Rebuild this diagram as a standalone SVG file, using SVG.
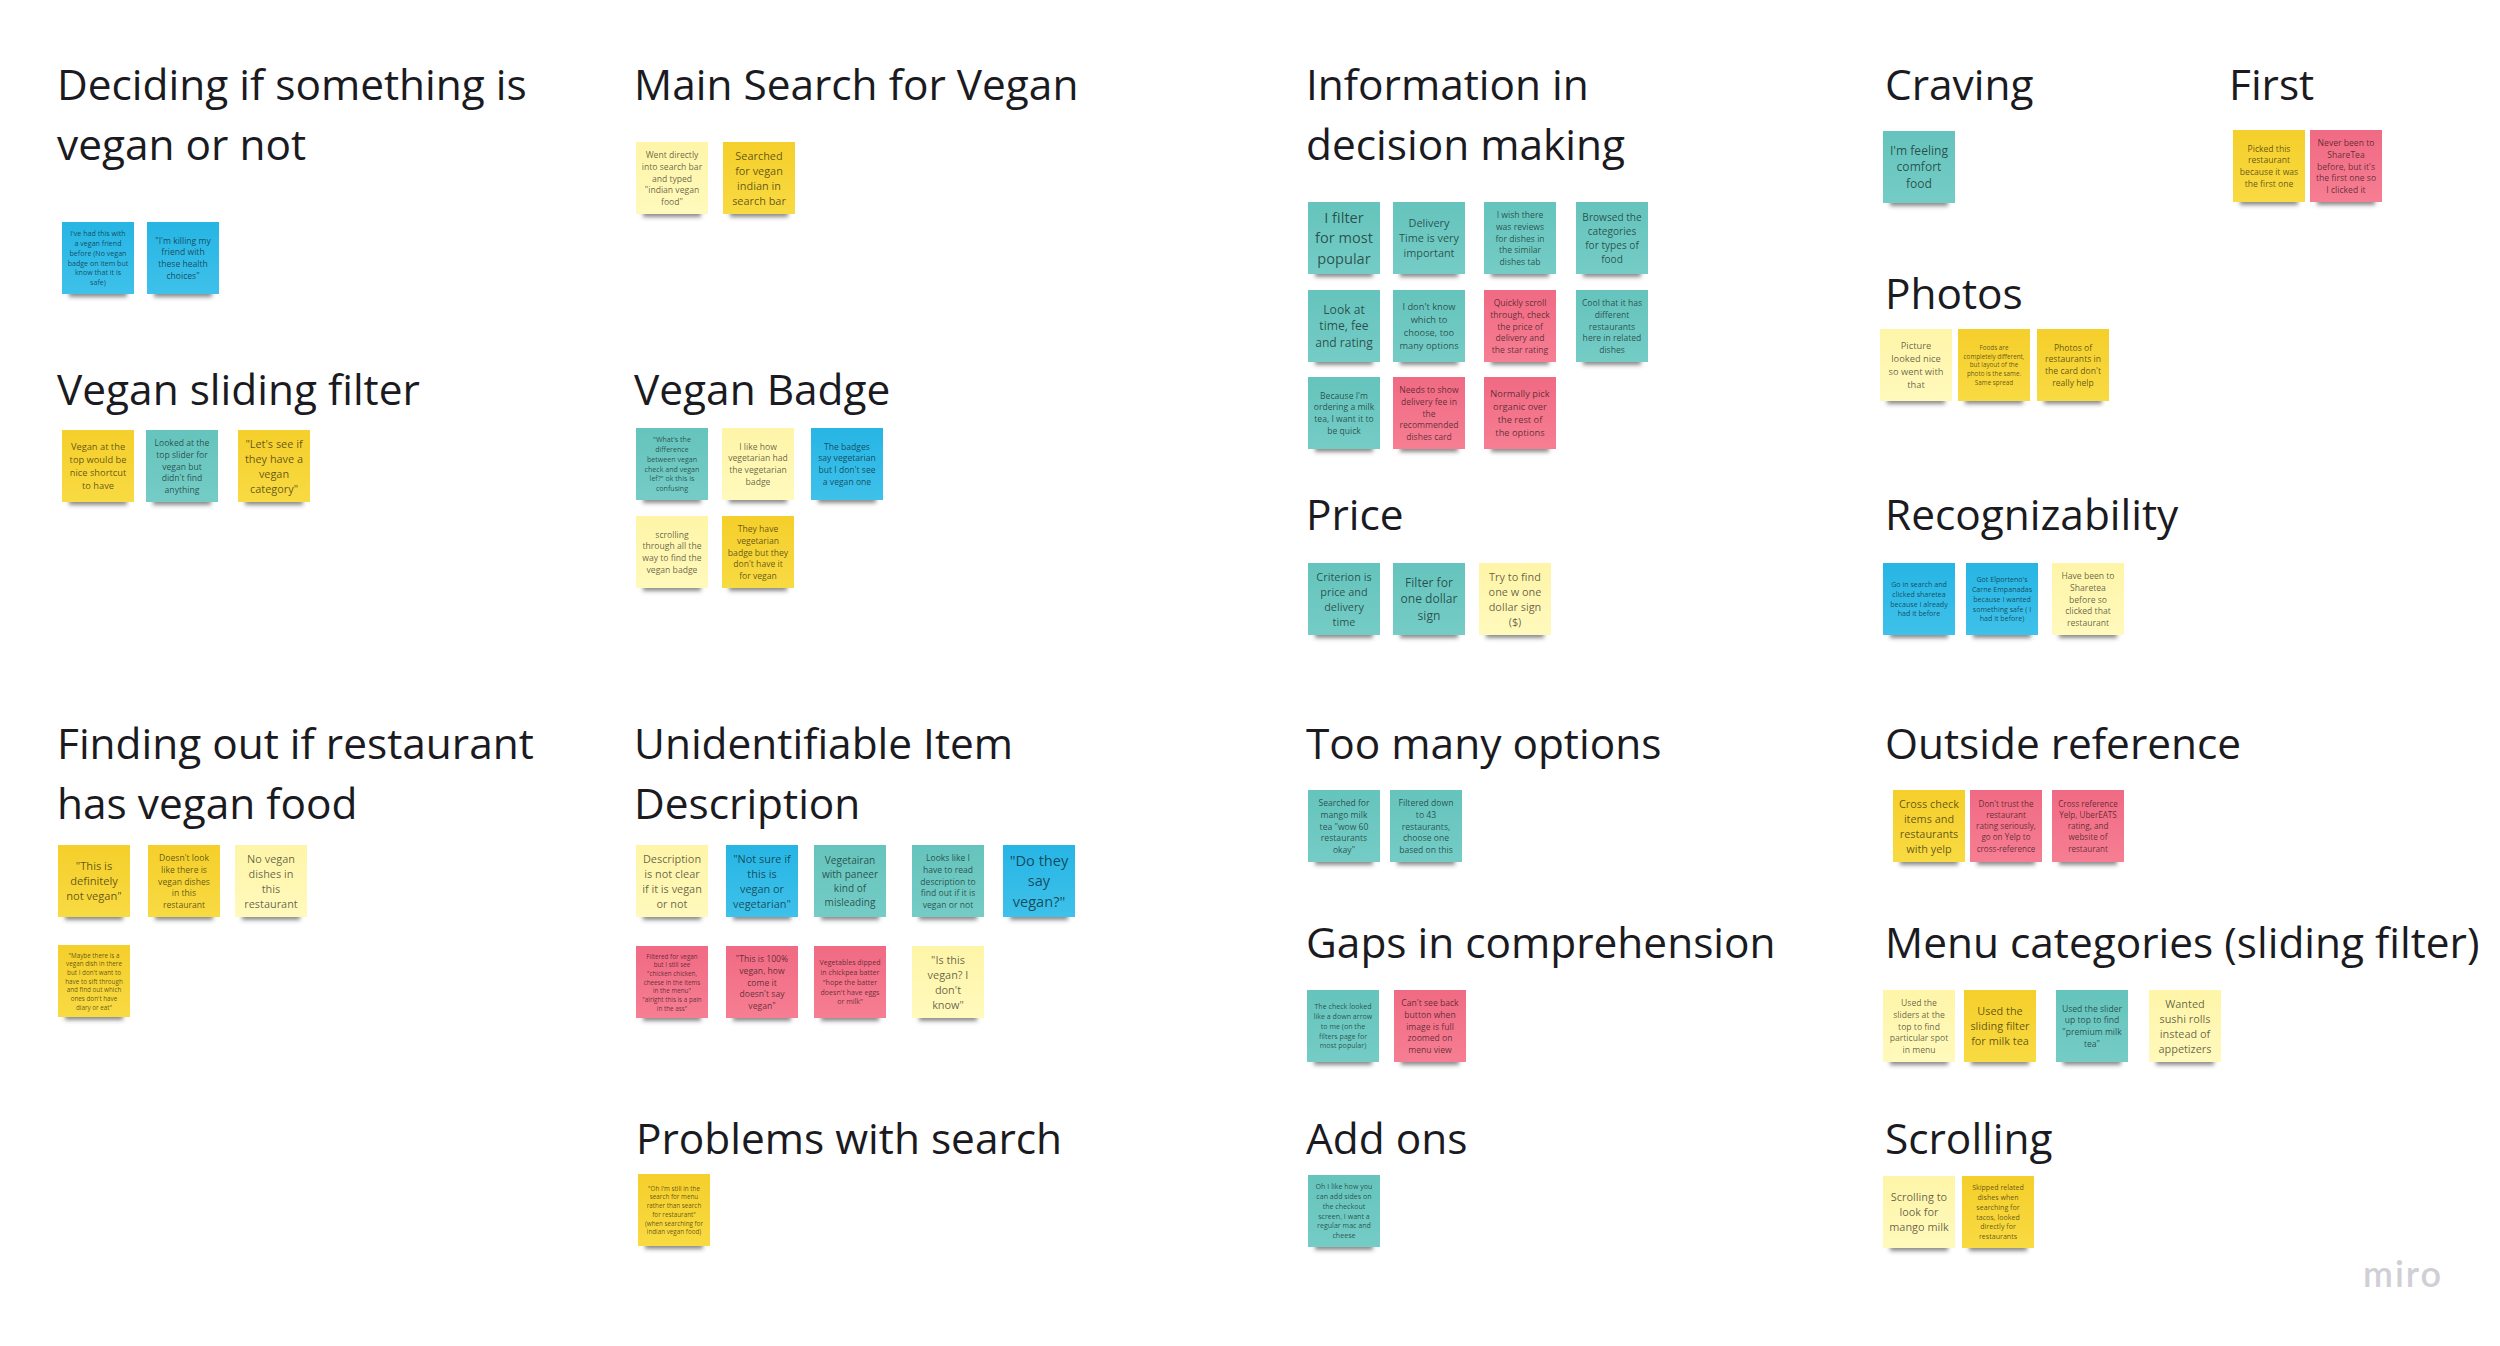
<svg xmlns="http://www.w3.org/2000/svg" width="2500" height="1346" viewBox="0 0 2500 1346">
<style>
text{font-family:"Open Sans","Noto Sans",sans-serif}
.t{font-size:42.4px;fill:#1a1a1f}
.n{text-anchor:middle;fill:#000;fill-opacity:.62}
.s62{font-size:6.3px}.s7{font-size:7.1px}.s8{font-size:8.1px}.s84{font-size:8.6px}.s92{font-size:9.3px}.s10{font-size:10.1px}.s108{font-size:10.9px}.s11{font-size:11.1px}.s12{font-size:12.1px}.s144{font-size:14.6px}
.sh{fill:#3c3c3c;fill-opacity:.6;filter:url(#b)}
</style>
<defs>
<filter id="b" x="-20%" y="-100%" width="140%" height="300%"><feGaussianBlur stdDeviation="2"/></filter>
<linearGradient id="gt" x1="0" y1="0" x2="0" y2="1"><stop offset="0" stop-color="#65c4bd"/><stop offset="1" stop-color="#74ccc5"/></linearGradient>
<linearGradient id="gb" x1="0" y1="0" x2="0" y2="1"><stop offset="0" stop-color="#27b5e4"/><stop offset="1" stop-color="#3ec1ea"/></linearGradient>
<linearGradient id="gy" x1="0" y1="0" x2="0" y2="1"><stop offset="0" stop-color="#f5cf2b"/><stop offset="1" stop-color="#f8da42"/></linearGradient>
<linearGradient id="gp" x1="0" y1="0" x2="0" y2="1"><stop offset="0" stop-color="#fef5a8"/><stop offset="1" stop-color="#fff9bc"/></linearGradient>
<linearGradient id="gr" x1="0" y1="0" x2="0" y2="1"><stop offset="0" stop-color="#f06a83"/><stop offset="1" stop-color="#f67e93"/></linearGradient>
<g id="t"><rect class="sh" x="7" y="67" width="58" height="8"/><rect width="72" height="72" fill="url(#gt)"/></g>
<g id="b1"><rect class="sh" x="7" y="67" width="58" height="8"/><rect width="72" height="72" fill="url(#gb)"/></g>
<g id="y"><rect class="sh" x="7" y="67" width="58" height="8"/><rect width="72" height="72" fill="url(#gy)"/></g>
<g id="p"><rect class="sh" x="7" y="67" width="58" height="8"/><rect width="72" height="72" fill="url(#gp)"/></g>
<g id="r"><rect class="sh" x="7" y="67" width="58" height="8"/><rect width="72" height="72" fill="url(#gr)"/></g>
</defs>
<rect width="2500" height="1346" fill="#fff"/>
<g id="titles" transform="translate(0,1)">
<text class="t" x="57" y="99">Deciding if something is</text>
<text class="t" x="57" y="159">vegan or not</text>
<text class="t" x="57" y="404">Vegan sliding filter</text>
<text class="t" x="57" y="758">Finding out if restaurant</text>
<text class="t" x="57" y="818">has vegan food</text>
<text class="t" x="634" y="99">Main Search for Vegan</text>
<text class="t" x="634" y="404">Vegan Badge</text>
<text class="t" x="634" y="758">Unidentifiable Item</text>
<text class="t" x="634" y="818">Description</text>
<text class="t" x="636" y="1153">Problems with search</text>
<text class="t" x="1306" y="99">Information in</text>
<text class="t" x="1306" y="159">decision making</text>
<text class="t" x="1306" y="529">Price</text>
<text class="t" x="1306" y="758">Too many options</text>
<text class="t" x="1306" y="957">Gaps in comprehension</text>
<text class="t" x="1306" y="1153">Add ons</text>
<text class="t" x="1885" y="99">Craving</text>
<text class="t" x="2229" y="99">First</text>
<text class="t" x="1885" y="308">Photos</text>
<text class="t" x="1885" y="529">Recognizability</text>
<text class="t" x="1885" y="758">Outside reference</text>
<text class="t" x="1885" y="957">Menu categories (sliding filter)</text>
<text class="t" x="1885" y="1153">Scrolling</text>
</g>
<g id="n1" transform="translate(62,222)"><use href="#b1"/><text class="n s7" y="14.3"><tspan x="36">I've had this with</tspan><tspan x="36" dy="1.38em">a vegan friend</tspan><tspan x="36" dy="1.38em">before (No vegan</tspan><tspan x="36" dy="1.38em">badge on item but</tspan><tspan x="36" dy="1.38em">know that it is</tspan><tspan x="36" dy="1.38em">safe)</tspan></text></g>
<g id="n2" transform="translate(147,222)"><use href="#b1"/><text class="n s84" y="21.6"><tspan x="36">"I'm killing my</tspan><tspan x="36" dy="1.38em">friend with</tspan><tspan x="36" dy="1.38em">these health</tspan><tspan x="36" dy="1.38em">choices"</tspan></text></g>
<g id="n3" transform="translate(62,430)"><use href="#y"/><text class="n s92" y="20.3"><tspan x="36">Vegan at the</tspan><tspan x="36" dy="1.38em">top would be</tspan><tspan x="36" dy="1.38em">nice shortcut</tspan><tspan x="36" dy="1.38em">to have</tspan></text></g>
<g id="n4" transform="translate(146,430)"><use href="#t"/><text class="n s84" y="15.8"><tspan x="36">Looked at the</tspan><tspan x="36" dy="1.38em">top slider for</tspan><tspan x="36" dy="1.38em">vegan but</tspan><tspan x="36" dy="1.38em">didn't find</tspan><tspan x="36" dy="1.38em">anything</tspan></text></g>
<g id="n5" transform="translate(238,430)"><use href="#y"/><text class="n s108" y="17.5"><tspan x="36">"Let's see if</tspan><tspan x="36" dy="1.38em">they have a</tspan><tspan x="36" dy="1.38em">vegan</tspan><tspan x="36" dy="1.38em">category"</tspan></text></g>
<g id="n6" transform="translate(636,142)"><use href="#p"/><text class="n s84" y="15.8"><tspan x="36">Went directly</tspan><tspan x="36" dy="1.38em">into search bar</tspan><tspan x="36" dy="1.38em">and typed</tspan><tspan x="36" dy="1.38em">"indian vegan</tspan><tspan x="36" dy="1.38em">food"</tspan></text></g>
<g id="n7" transform="translate(723,142)"><use href="#y"/><text class="n s108" y="17.5"><tspan x="36">Searched</tspan><tspan x="36" dy="1.38em">for vegan</tspan><tspan x="36" dy="1.38em">indian in</tspan><tspan x="36" dy="1.38em">search bar</tspan></text></g>
<g id="n8" transform="translate(636,428)"><use href="#t"/><text class="n s7" y="14.3"><tspan x="36">"What's the</tspan><tspan x="36" dy="1.38em">difference</tspan><tspan x="36" dy="1.38em">between vegan</tspan><tspan x="36" dy="1.38em">check and vegan</tspan><tspan x="36" dy="1.38em">lef?" ok this is</tspan><tspan x="36" dy="1.38em">confusing</tspan></text></g>
<g id="n9" transform="translate(722,428)"><use href="#p"/><text class="n s84" y="21.6"><tspan x="36">I like how</tspan><tspan x="36" dy="1.38em">vegetarian had</tspan><tspan x="36" dy="1.38em">the vegetarian</tspan><tspan x="36" dy="1.38em">badge</tspan></text></g>
<g id="n10" transform="translate(811,428)"><use href="#b1"/><text class="n s84" y="21.6"><tspan x="36">The badges</tspan><tspan x="36" dy="1.38em">say vegetarian</tspan><tspan x="36" dy="1.38em">but I don't see</tspan><tspan x="36" dy="1.38em">a vegan one</tspan></text></g>
<g id="n11" transform="translate(636,516)"><use href="#p"/><text class="n s84" y="21.6"><tspan x="36">scrolling</tspan><tspan x="36" dy="1.38em">through all the</tspan><tspan x="36" dy="1.38em">way to find the</tspan><tspan x="36" dy="1.38em">vegan badge</tspan></text></g>
<g id="n12" transform="translate(722,516)"><use href="#y"/><text class="n s84" y="15.8"><tspan x="36">They have</tspan><tspan x="36" dy="1.38em">vegetarian</tspan><tspan x="36" dy="1.38em">badge but they</tspan><tspan x="36" dy="1.38em">don't have it</tspan><tspan x="36" dy="1.38em">for vegan</tspan></text></g>
<g id="n13" transform="translate(1308,202)"><use href="#t"/><text class="n s144" y="21.3"><tspan x="36">I filter</tspan><tspan x="36" dy="1.38em">for most</tspan><tspan x="36" dy="1.38em">popular</tspan></text></g>
<g id="n14" transform="translate(1393,202)"><use href="#t"/><text class="n s108" y="25"><tspan x="36">Delivery</tspan><tspan x="36" dy="1.38em">Time is very</tspan><tspan x="36" dy="1.38em">important</tspan></text></g>
<g id="n15" transform="translate(1484,202)"><use href="#t"/><text class="n s84" y="15.8"><tspan x="36">I wish there</tspan><tspan x="36" dy="1.38em">was reviews</tspan><tspan x="36" dy="1.38em">for dishes in</tspan><tspan x="36" dy="1.38em">the similar</tspan><tspan x="36" dy="1.38em">dishes tab</tspan></text></g>
<g id="n16" transform="translate(1576,202)"><use href="#t"/><text class="n s10" y="18.9"><tspan x="36">Browsed the</tspan><tspan x="36" dy="1.38em">categories</tspan><tspan x="36" dy="1.38em">for types of</tspan><tspan x="36" dy="1.38em">food</tspan></text></g>
<g id="n17" transform="translate(1308,290)"><use href="#t"/><text class="n s12" y="23.7"><tspan x="36">Look at</tspan><tspan x="36" dy="1.38em">time, fee</tspan><tspan x="36" dy="1.38em">and rating</tspan></text></g>
<g id="n18" transform="translate(1393,290)"><use href="#t"/><text class="n s92" y="20.3"><tspan x="36">I don't know</tspan><tspan x="36" dy="1.38em">which to</tspan><tspan x="36" dy="1.38em">choose, too</tspan><tspan x="36" dy="1.38em">many options</tspan></text></g>
<g id="n19" transform="translate(1484,290)"><use href="#r"/><text class="n s84" y="15.8"><tspan x="36">Quickly scroll</tspan><tspan x="36" dy="1.38em">through, check</tspan><tspan x="36" dy="1.38em">the price of</tspan><tspan x="36" dy="1.38em">delivery and</tspan><tspan x="36" dy="1.38em">the star rating</tspan></text></g>
<g id="n20" transform="translate(1576,290)"><use href="#t"/><text class="n s84" y="15.8"><tspan x="36">Cool that it has</tspan><tspan x="36" dy="1.38em">different</tspan><tspan x="36" dy="1.38em">restaurants</tspan><tspan x="36" dy="1.38em">here in related</tspan><tspan x="36" dy="1.38em">dishes</tspan></text></g>
<g id="n21" transform="translate(1308,377)"><use href="#t"/><text class="n s84" y="21.6"><tspan x="36">Because I'm</tspan><tspan x="36" dy="1.38em">ordering a milk</tspan><tspan x="36" dy="1.38em">tea, I want it to</tspan><tspan x="36" dy="1.38em">be quick</tspan></text></g>
<g id="n22" transform="translate(1393,377)"><use href="#r"/><text class="n s84" y="15.8"><tspan x="36">Needs to show</tspan><tspan x="36" dy="1.38em">delivery fee in</tspan><tspan x="36" dy="1.38em">the</tspan><tspan x="36" dy="1.38em">recommended</tspan><tspan x="36" dy="1.38em">dishes card</tspan></text></g>
<g id="n23" transform="translate(1484,377)"><use href="#r"/><text class="n s92" y="20.3"><tspan x="36">Normally pick</tspan><tspan x="36" dy="1.38em">organic over</tspan><tspan x="36" dy="1.38em">the rest of</tspan><tspan x="36" dy="1.38em">the options</tspan></text></g>
<g id="n24" transform="translate(1308,563)"><use href="#t"/><text class="n s108" y="17.5"><tspan x="36">Criterion is</tspan><tspan x="36" dy="1.38em">price and</tspan><tspan x="36" dy="1.38em">delivery</tspan><tspan x="36" dy="1.38em">time</tspan></text></g>
<g id="n25" transform="translate(1393,563)"><use href="#t"/><text class="n s12" y="23.7"><tspan x="36">Filter for</tspan><tspan x="36" dy="1.38em">one dollar</tspan><tspan x="36" dy="1.38em">sign</tspan></text></g>
<g id="n26" transform="translate(1479,563)"><use href="#p"/><text class="n s108" y="17.5"><tspan x="36">Try to find</tspan><tspan x="36" dy="1.38em">one w one</tspan><tspan x="36" dy="1.38em">dollar sign</tspan><tspan x="36" dy="1.38em">($)</tspan></text></g>
<g id="n27" transform="translate(1308,790)"><use href="#t"/><text class="n s84" y="15.8"><tspan x="36">Searched for</tspan><tspan x="36" dy="1.38em">mango milk</tspan><tspan x="36" dy="1.38em">tea "wow 60</tspan><tspan x="36" dy="1.38em">restaurants</tspan><tspan x="36" dy="1.38em">okay"</tspan></text></g>
<g id="n28" transform="translate(1390,790)"><use href="#t"/><text class="n s84" y="15.8"><tspan x="36">Filtered down</tspan><tspan x="36" dy="1.38em">to 43</tspan><tspan x="36" dy="1.38em">restaurants,</tspan><tspan x="36" dy="1.38em">choose one</tspan><tspan x="36" dy="1.38em">based on this</tspan></text></g>
<g id="n29" transform="translate(1307,990)"><use href="#t"/><text class="n s7" y="19.2"><tspan x="36">The check looked</tspan><tspan x="36" dy="1.38em">like a down arrow</tspan><tspan x="36" dy="1.38em">to me (on the</tspan><tspan x="36" dy="1.38em">filters page for</tspan><tspan x="36" dy="1.38em">most popular)</tspan></text></g>
<g id="n30" transform="translate(1394,990)"><use href="#r"/><text class="n s84" y="15.8"><tspan x="36">Can't see back</tspan><tspan x="36" dy="1.38em">button when</tspan><tspan x="36" dy="1.38em">image is full</tspan><tspan x="36" dy="1.38em">zoomed on</tspan><tspan x="36" dy="1.38em">menu view</tspan></text></g>
<g id="n31" transform="translate(1308,1175)"><use href="#t"/><text class="n s7" y="14.3"><tspan x="36">Oh I like how you</tspan><tspan x="36" dy="1.38em">can add sides on</tspan><tspan x="36" dy="1.38em">the checkout</tspan><tspan x="36" dy="1.38em">screen, I want a</tspan><tspan x="36" dy="1.38em">regular mac and</tspan><tspan x="36" dy="1.38em">cheese</tspan></text></g>
<g id="n32" transform="translate(1883,131)"><use href="#t"/><text class="n s12" y="23.7"><tspan x="36">I'm feeling</tspan><tspan x="36" dy="1.38em">comfort</tspan><tspan x="36" dy="1.38em">food</tspan></text></g>
<g id="n33" transform="translate(2233,130)"><use href="#y"/><text class="n s84" y="21.6"><tspan x="36">Picked this</tspan><tspan x="36" dy="1.38em">restaurant</tspan><tspan x="36" dy="1.38em">because it was</tspan><tspan x="36" dy="1.38em">the first one</tspan></text></g>
<g id="n34" transform="translate(2310,130)"><use href="#r"/><text class="n s84" y="15.8"><tspan x="36">Never been to</tspan><tspan x="36" dy="1.38em">ShareTea</tspan><tspan x="36" dy="1.38em">before, but it's</tspan><tspan x="36" dy="1.38em">the first one so</tspan><tspan x="36" dy="1.38em">I clicked it</tspan></text></g>
<g id="n35" transform="translate(1880,329)"><use href="#p"/><text class="n s92" y="20.3"><tspan x="36">Picture</tspan><tspan x="36" dy="1.38em">looked nice</tspan><tspan x="36" dy="1.38em">so went with</tspan><tspan x="36" dy="1.38em">that</tspan></text></g>
<g id="n36" transform="translate(1958,329)"><use href="#y"/><text class="n s62" y="21.1"><tspan x="36">Foods are</tspan><tspan x="36" dy="1.38em">completely different,</tspan><tspan x="36" dy="1.38em">but layout of the</tspan><tspan x="36" dy="1.38em">photo is the same.</tspan><tspan x="36" dy="1.38em">Same spread</tspan></text></g>
<g id="n37" transform="translate(2037,329)"><use href="#y"/><text class="n s84" y="21.6"><tspan x="36">Photos of</tspan><tspan x="36" dy="1.38em">restaurants in</tspan><tspan x="36" dy="1.38em">the card don't</tspan><tspan x="36" dy="1.38em">really help</tspan></text></g>
<g id="n38" transform="translate(1883,563)"><use href="#b1"/><text class="n s7" y="24"><tspan x="36">Go in search and</tspan><tspan x="36" dy="1.38em">clicked sharetea</tspan><tspan x="36" dy="1.38em">because I already</tspan><tspan x="36" dy="1.38em">had it before</tspan></text></g>
<g id="n39" transform="translate(1966,563)"><use href="#b1"/><text class="n s7" y="19.2"><tspan x="36">Got Elporteno's</tspan><tspan x="36" dy="1.38em">Carne Empanadas</tspan><tspan x="36" dy="1.38em">because I wanted</tspan><tspan x="36" dy="1.38em">something safe ( I</tspan><tspan x="36" dy="1.38em">had it before)</tspan></text></g>
<g id="n40" transform="translate(2052,563)"><use href="#p"/><text class="n s84" y="15.8"><tspan x="36">Have been to</tspan><tspan x="36" dy="1.38em">Sharetea</tspan><tspan x="36" dy="1.38em">before so</tspan><tspan x="36" dy="1.38em">clicked that</tspan><tspan x="36" dy="1.38em">restaurant</tspan></text></g>
<g id="n41" transform="translate(1893,790)"><use href="#y"/><text class="n s108" y="17.5"><tspan x="36">Cross check</tspan><tspan x="36" dy="1.38em">items and</tspan><tspan x="36" dy="1.38em">restaurants</tspan><tspan x="36" dy="1.38em">with yelp</tspan></text></g>
<g id="n42" transform="translate(1970,790)"><use href="#r"/><text class="n s8" y="16.9"><tspan x="36">Don't trust the</tspan><tspan x="36" dy="1.38em">restaurant</tspan><tspan x="36" dy="1.38em">rating seriously,</tspan><tspan x="36" dy="1.38em">go on Yelp to</tspan><tspan x="36" dy="1.38em">cross-reference</tspan></text></g>
<g id="n43" transform="translate(2052,790)"><use href="#r"/><text class="n s8" y="16.9"><tspan x="36">Cross reference</tspan><tspan x="36" dy="1.38em">Yelp, UberEATS</tspan><tspan x="36" dy="1.38em">rating, and</tspan><tspan x="36" dy="1.38em">website of</tspan><tspan x="36" dy="1.38em">restaurant</tspan></text></g>
<g id="n44" transform="translate(58,845)"><use href="#y"/><text class="n s11" y="24.8"><tspan x="36">"This is</tspan><tspan x="36" dy="1.38em">definitely</tspan><tspan x="36" dy="1.38em">not vegan"</tspan></text></g>
<g id="n45" transform="translate(148,845)"><use href="#y"/><text class="n s84" y="15.8"><tspan x="36">Doesn't look</tspan><tspan x="36" dy="1.38em">like there is</tspan><tspan x="36" dy="1.38em">vegan dishes</tspan><tspan x="36" dy="1.38em">in this</tspan><tspan x="36" dy="1.38em">restaurant</tspan></text></g>
<g id="n46" transform="translate(235,845)"><use href="#p"/><text class="n s108" y="17.5"><tspan x="36">No vegan</tspan><tspan x="36" dy="1.38em">dishes in</tspan><tspan x="36" dy="1.38em">this</tspan><tspan x="36" dy="1.38em">restaurant</tspan></text></g>
<g id="n47" transform="translate(58,945)"><use href="#y"/><text class="n s62" y="12.5"><tspan x="36">"Maybe there is a</tspan><tspan x="36" dy="1.38em">vegan dish in there</tspan><tspan x="36" dy="1.38em">but I don't want to</tspan><tspan x="36" dy="1.38em">have to sift through</tspan><tspan x="36" dy="1.38em">and find out which</tspan><tspan x="36" dy="1.38em">ones don't have</tspan><tspan x="36" dy="1.38em">diary or eat"</tspan></text></g>
<g id="n48" transform="translate(636,845)"><use href="#p"/><text class="n s108" y="17.5"><tspan x="36">Description</tspan><tspan x="36" dy="1.38em">is not clear</tspan><tspan x="36" dy="1.38em">if it is vegan</tspan><tspan x="36" dy="1.38em">or not</tspan></text></g>
<g id="n49" transform="translate(726,845)"><use href="#b1"/><text class="n s108" y="17.5"><tspan x="36">"Not sure if</tspan><tspan x="36" dy="1.38em">this is</tspan><tspan x="36" dy="1.38em">vegan or</tspan><tspan x="36" dy="1.38em">vegetarian"</tspan></text></g>
<g id="n50" transform="translate(814,845)"><use href="#t"/><text class="n s10" y="18.9"><tspan x="36">Vegetairan</tspan><tspan x="36" dy="1.38em">with paneer</tspan><tspan x="36" dy="1.38em">kind of</tspan><tspan x="36" dy="1.38em">misleading</tspan></text></g>
<g id="n51" transform="translate(912,845)"><use href="#t"/><text class="n s84" y="15.8"><tspan x="36">Looks like I</tspan><tspan x="36" dy="1.38em">have to read</tspan><tspan x="36" dy="1.38em">description to</tspan><tspan x="36" dy="1.38em">find out if it is</tspan><tspan x="36" dy="1.38em">vegan or not</tspan></text></g>
<g id="n52" transform="translate(1003,845)"><use href="#b1"/><text class="n s144" y="21.3"><tspan x="36">"Do they</tspan><tspan x="36" dy="1.38em">say</tspan><tspan x="36" dy="1.38em">vegan?"</tspan></text></g>
<g id="n53" transform="translate(636,946)"><use href="#r"/><text class="n s62" y="12.5"><tspan x="36">Filtered for vegan</tspan><tspan x="36" dy="1.38em">but I still see</tspan><tspan x="36" dy="1.38em">"chicken chicken,</tspan><tspan x="36" dy="1.38em">cheese in the items</tspan><tspan x="36" dy="1.38em">in the menu"</tspan><tspan x="36" dy="1.38em">"alright this is a pain</tspan><tspan x="36" dy="1.38em">in the ass"</tspan></text></g>
<g id="n54" transform="translate(726,946)"><use href="#r"/><text class="n s84" y="15.8"><tspan x="36">"This is 100%</tspan><tspan x="36" dy="1.38em">vegan, how</tspan><tspan x="36" dy="1.38em">come it</tspan><tspan x="36" dy="1.38em">doesn't say</tspan><tspan x="36" dy="1.38em">vegan"</tspan></text></g>
<g id="n55" transform="translate(814,946)"><use href="#r"/><text class="n s7" y="19.2"><tspan x="36">Vegetables dipped</tspan><tspan x="36" dy="1.38em">in chickpea batter</tspan><tspan x="36" dy="1.38em">"hope the batter</tspan><tspan x="36" dy="1.38em">doesn't have eggs</tspan><tspan x="36" dy="1.38em">or milk"</tspan></text></g>
<g id="n56" transform="translate(912,946)"><use href="#p"/><text class="n s108" y="17.5"><tspan x="36">"Is this</tspan><tspan x="36" dy="1.38em">vegan? I</tspan><tspan x="36" dy="1.38em">don't</tspan><tspan x="36" dy="1.38em">know"</tspan></text></g>
<g id="n57" transform="translate(638,1174)"><use href="#y"/><text class="n s62" y="16.8"><tspan x="36">"Oh I'm still in the</tspan><tspan x="36" dy="1.38em">search for menu</tspan><tspan x="36" dy="1.38em">rather than search</tspan><tspan x="36" dy="1.38em">for restaurant"</tspan><tspan x="36" dy="1.38em">(when searching for</tspan><tspan x="36" dy="1.38em">indian vegan food)</tspan></text></g>
<g id="n58" transform="translate(1883,990)"><use href="#p"/><text class="n s84" y="15.8"><tspan x="36">Used the</tspan><tspan x="36" dy="1.38em">sliders at the</tspan><tspan x="36" dy="1.38em">top to find</tspan><tspan x="36" dy="1.38em">particular spot</tspan><tspan x="36" dy="1.38em">in menu</tspan></text></g>
<g id="n59" transform="translate(1964,990)"><use href="#y"/><text class="n s108" y="25"><tspan x="36">Used the</tspan><tspan x="36" dy="1.38em">sliding filter</tspan><tspan x="36" dy="1.38em">for milk tea</tspan></text></g>
<g id="n60" transform="translate(2056,990)"><use href="#t"/><text class="n s84" y="21.6"><tspan x="36">Used the slider</tspan><tspan x="36" dy="1.38em">up top to find</tspan><tspan x="36" dy="1.38em">"premium milk</tspan><tspan x="36" dy="1.38em">tea"</tspan></text></g>
<g id="n61" transform="translate(2149,990)"><use href="#p"/><text class="n s108" y="17.5"><tspan x="36">Wanted</tspan><tspan x="36" dy="1.38em">sushi rolls</tspan><tspan x="36" dy="1.38em">instead of</tspan><tspan x="36" dy="1.38em">appetizers</tspan></text></g>
<g id="n62" transform="translate(1883,1176)"><use href="#p"/><text class="n s108" y="25"><tspan x="36">Scrolling to</tspan><tspan x="36" dy="1.38em">look for</tspan><tspan x="36" dy="1.38em">mango milk</tspan></text></g>
<g id="n63" transform="translate(1962,1176)"><use href="#y"/><text class="n s7" y="14.3"><tspan x="36">Skipped related</tspan><tspan x="36" dy="1.38em">dishes when</tspan><tspan x="36" dy="1.38em">searching for</tspan><tspan x="36" dy="1.38em">tacos, looked</tspan><tspan x="36" dy="1.38em">directly for</tspan><tspan x="36" dy="1.38em">restaurants</tspan></text></g>
<text id="logo" x="2363" y="1287" font-size="36" font-weight="600" letter-spacing="2" fill="#cfcfd6" style="font-family:Lato,'Open Sans',sans-serif">miro</text>
</svg>
